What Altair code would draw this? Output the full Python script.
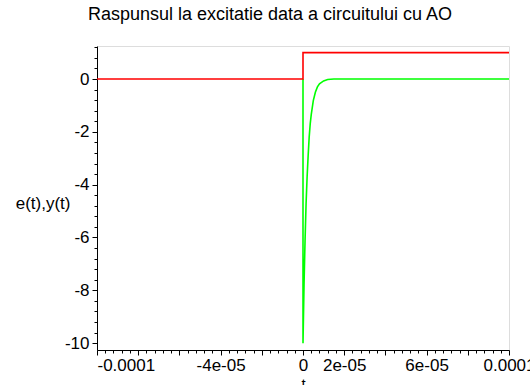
import altair as alt
import pandas as pd

# ---- data ----
e_t = [-0.0001, 0.0, 0.0, 0.0001]
e_val = [0.0, 0.0, 1.0, 1.0]

# green response (for t < 0 it is 0 and hidden under the red input line)
y_t = [0.0, 0.0, 0.5e-6, 1.0e-6, 1.5e-6, 2.0e-6, 2.5e-6, 3.0e-6, 3.5e-6,
       4.0e-6, 5.0e-6, 6.0e-6, 7.0e-6, 8.0e-6, 1.0e-5, 1.2e-5, 1.5e-5, 0.0001]
y_val = [0.0, -10.0, -7.8, -6.1, -4.7, -3.7, -2.9, -2.2, -1.7,
         -1.35, -0.82, -0.5, -0.3, -0.18, -0.07, -0.02, 0.0, 0.0]

x_label_values = [-0.0001, -0.00004, 0.0, 0.00002, 0.00006, 0.0001]
x_label_texts = ["-0.0001", "-4e-05", "0", "2e-05", "6e-05", "0.0001"]
y_label_values = [-10, -8, -6, -4, -2, 0]

title_text = "Raspunsul la excitatie data a circuitului cu AO"

df_y = pd.DataFrame({"t": y_t, "v": y_val, "i": list(range(len(y_t)))})
df_e = pd.DataFrame({"t": e_t, "v": e_val, "i": list(range(len(e_t)))})

# tick positions (major + minor)
x_ticks = [round(k * 4e-6, 10) for k in range(-25, 26)]
y_ticks = [round(k * 0.4, 6) for k in range(-25, 4)]

x_expr = " : ".join(
    f"abs(datum.value - ({v})) < 1e-9 ? '{s}'" for v, s in zip(x_label_values, x_label_texts)
) + " : ''"
y_expr = " : ".join(
    f"abs(datum.value - ({v})) < 1e-6 ? '{v}'" for v in y_label_values
) + " : ''"

FONT = "Liberation Sans"


def make_x_axis():
    return alt.Axis(
        values=x_ticks,
        labelExpr=x_expr,
        labelOverlap=False,
        labelFlush=False,
        labelAlign={"condition": {"test": "datum.value < -9.9e-5", "value": "left"}, "value": "center"},
        tickSize={"condition": {"test": "abs(datum.value/2e-5 - round(datum.value/2e-5)) < 1e-3", "value": 5}, "value": 3},
        labelPadding=2,
        labelFontSize=17,
        labelFont=FONT,
        labelColor="black",
        domainColor="black",
        tickColor="black",
        grid=False,
        title="t",
        titleFont=FONT,
        titleFontSize=15,
        titleFontWeight="normal",
        titleColor="black",
        titleBaseline="top",
        titleY=26,
    )


def make_y_axis():
    return alt.Axis(
        values=y_ticks,
        labelExpr=y_expr,
        labelOverlap=False,
        labelFlush=False,
        tickSize={"condition": {"test": "abs(datum.value/2 - round(datum.value/2)) < 1e-3", "value": 5}, "value": 3},
        labelPadding=3,
        labelFontSize=17,
        labelFont=FONT,
        labelColor="black",
        domainColor="black",
        tickColor="black",
        grid=False,
        title="e(t),y(t)",
        titleFont=FONT,
        titleFontSize=17,
        titleFontWeight="normal",
        titleColor="black",
        titleAngle=0,
        titleAlign="right",
        titleBaseline="middle",
        titleX=-27,
        titleY=157,
    )


xs = alt.Scale(domain=[-0.0001, 0.0001], nice=False, zero=False)
ys = alt.Scale(domain=[-10.26, 1.25], nice=False, zero=False)

green = alt.Chart(df_y).mark_line(strokeWidth=1.6, color="#00ff00").encode(
    x=alt.X("t:Q", scale=xs, axis=make_x_axis()),
    y=alt.Y("v:Q", scale=ys, axis=make_y_axis()),
    order="i:Q",
)
red = alt.Chart(df_e).mark_line(strokeWidth=1.6, color="#ff0000").encode(
    x=alt.X("t:Q", scale=xs, axis=make_x_axis()),
    y=alt.Y("v:Q", scale=ys, axis=make_y_axis()),
    order="i:Q",
)

chart = alt.layer(green, red).properties(
    width=412,
    height=304,
    title=alt.TitleParams(
        text=title_text,
        font=FONT,
        fontSize=18,
        fontWeight="normal",
        color="black",
        anchor="middle",
        frame="group",
        baseline="alphabetic",
        offset=22,
        dx=-33,
        dy=22,
    ),
    autosize=alt.AutoSizeParams(type="none"),
    padding={"left": 97, "top": 46, "right": 21, "bottom": 35},
).configure_view(
    stroke="#333333", strokeWidth=1
).configure(background="white")

chart.save("out.html", embed_options={"renderer": "svg", "actions": False})
